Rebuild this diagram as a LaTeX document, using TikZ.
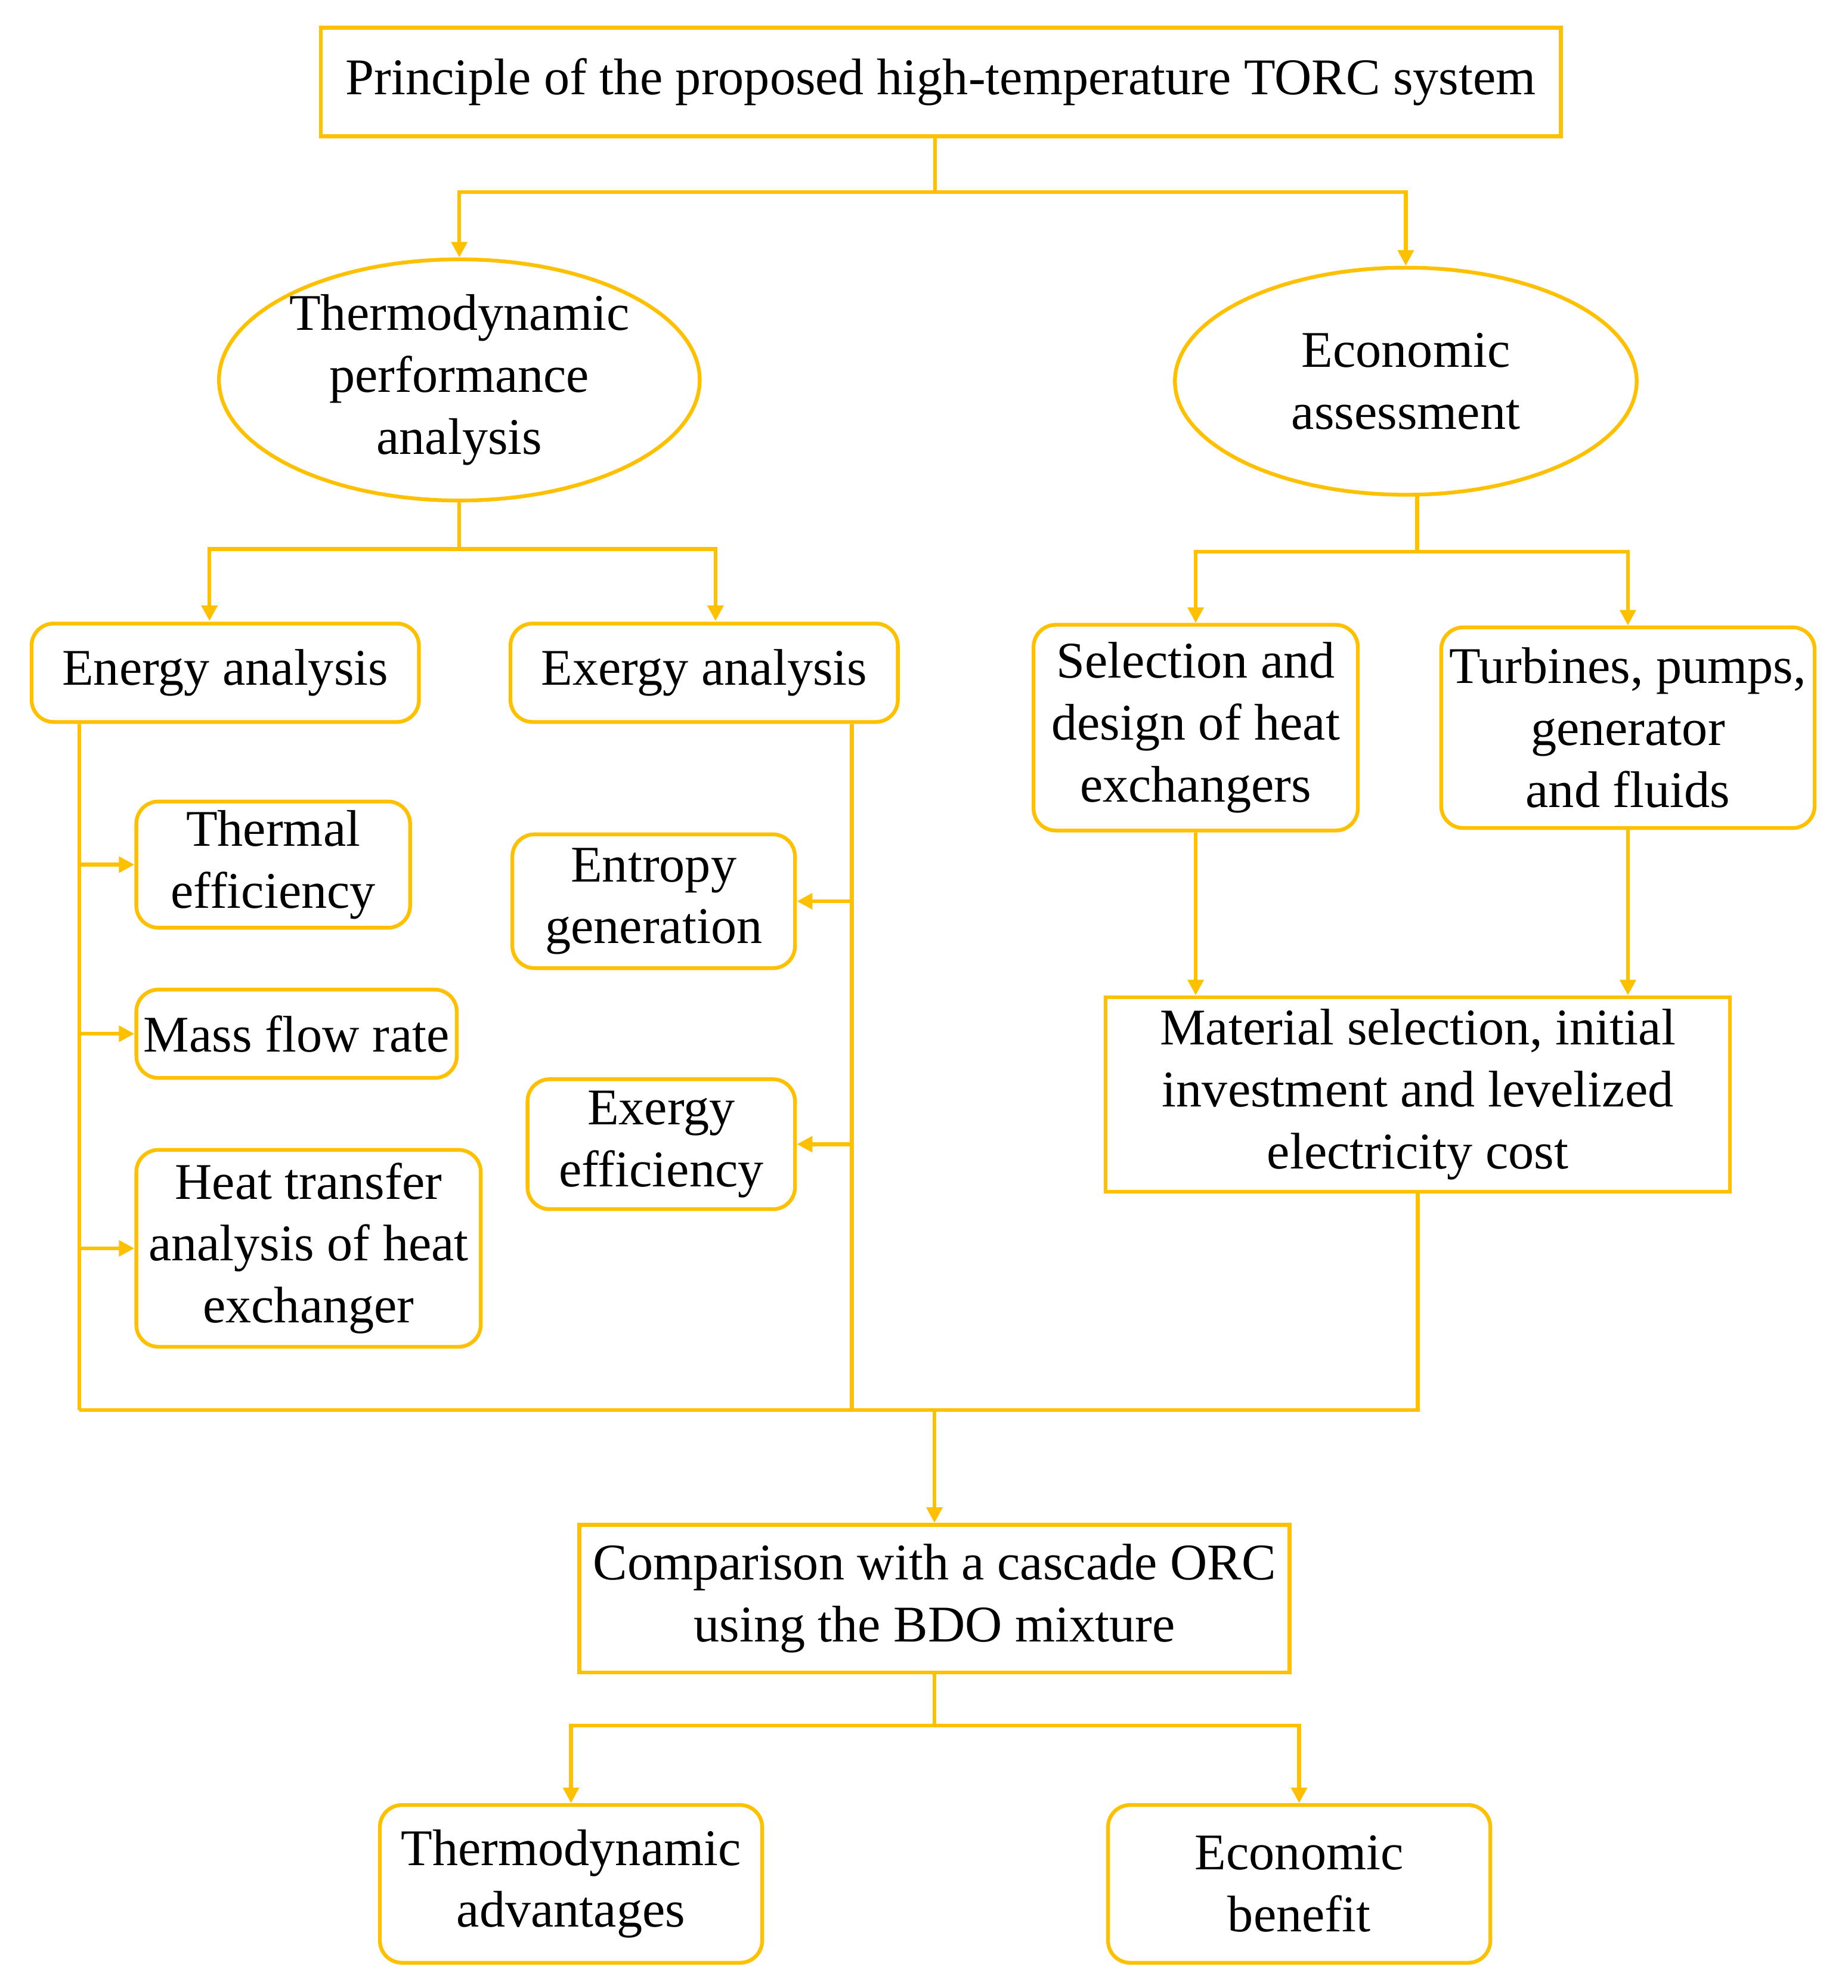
\documentclass[tikz,border=0pt]{standalone}
\usepackage{fontspec}
\setmainfont{Liberation Serif}
\usetikzlibrary{shapes.geometric,arrows.meta}
\definecolor{gold}{HTML}{FFC000}
\begin{document}
\begin{tikzpicture}[x=0.02cm,y=-0.02cm,
  every node/.style={font=\fontsize{23.2}{27.9}\selectfont,align=center,inner sep=0pt},
  box/.style={draw=gold,line width=1.7pt},
  rbox/.style={box,rounded corners=0.35cm},
  ell/.style={box,ellipse},
  ln/.style={draw=gold,line width=1.7pt},
  arr/.style={ln,-{Triangle[length=7pt,width=7pt]}}]
\useasboundingbox (0,0) rectangle (1464,1575);
\node[box,minimum width=19.66cm,minimum height=1.72cm] (top) at (745.5,65) {Principle of the proposed high-temperature TORC system};
\node[ell,minimum width=7.32cm,minimum height=3.6cm] (L) at (364,301) {Thermodynamic\\performance\\analysis};
\node[ell,minimum width=7.32cm,minimum height=3.6cm] (R) at (1114,302) {Economic\\assessment};
\node[rbox,minimum width=6.14cm,minimum height=1.56cm] (En) at (178.5,533) {Energy analysis};
\node[rbox,minimum width=6.14cm,minimum height=1.56cm] (Ex) at (558,533) {Exergy analysis};
\node[rbox,minimum width=5.14cm,minimum height=3.26cm] (Sel) at (947.5,576.5) {Selection and\\design of heat\\exchangers};
\node[rbox,minimum width=5.92cm,minimum height=3.18cm] (Tur) at (1290,576.5) {Turbines, pumps,\\generator\\and fluids};
\node[box,minimum width=9.9cm,minimum height=3.08cm] (Mat) at (1123.5,867) {Material selection, initial\\investment and levelized\\electricity cost};
\node[rbox,minimum width=4.34cm,minimum height=2.0cm] (Th) at (216.5,685) {Thermal\\efficiency};
\node[rbox,minimum width=5.08cm,minimum height=1.4cm] (Ma) at (235,819) {Mass flow rate};
\node[rbox,minimum width=5.46cm,minimum height=3.12cm] (He) at (244.5,989) {Heat transfer\\analysis of heat\\exchanger};
\node[rbox,minimum width=4.48cm,minimum height=2.12cm] (Ent) at (518,714) {Entropy\\generation};
\node[rbox,minimum width=4.24cm,minimum height=2.06cm] (Xe) at (524,906.5) {Exergy\\efficiency};
\node[box,minimum width=11.26cm,minimum height=2.34cm] (Co) at (740.5,1266.5) {Comparison with a cascade ORC\\using the BDO mixture};
\node[rbox,minimum width=6.06cm,minimum height=2.5cm] (TA) at (452.5,1492.5) {Thermodynamic\\advantages};
\node[rbox,minimum width=6.06cm,minimum height=2.5cm] (EB) at (1029.5,1492.5) {Economic\\benefit};
% top split
\coordinate (j1) at (741,152);
\draw[ln] (top.south -| j1) -- (j1);
\draw[arr] (j1) -| (L.north);
\draw[arr] (j1) -| (R.north);
% left split
\coordinate (j2) at (364,435);
\draw[ln] (L.south) -- (j2);
\draw[arr] (j2) -| (166,492);
\draw[arr] (j2) -| (567,492);
% right split
\coordinate (j3) at (1123,437);
\draw[ln] (1123,392) -- (j3);
\draw[arr] (j3) -| (Sel.north);
\draw[arr] (j3) -| (Tur.north);
\draw[arr] (Sel.south) -- (Sel.south |- Mat.north);
\draw[arr] (Tur.south) -- (Tur.south |- Mat.north);
% energy side
\coordinate (eL) at (63,1117);
\draw[ln] (En.south -| eL) -- (eL);
\draw[arr] (Th.west -| eL) -- (Th.west);
\draw[arr] (Ma.west -| eL) -- (Ma.west);
\draw[arr] (He.west -| eL) -- (He.west);
% exergy side
\coordinate (xR) at (675,1117);
\draw[ln] (Ex.south -| xR) -- (xR);
\draw[arr] (Ent.east -| xR) -- (Ent.east);
\draw[arr] (Xe.east -| xR) -- (Xe.east);
% merge
\draw[ln] (eL) -- (Mat.south |- eL) -- (Mat.south);
\draw[arr] (Co.north |- eL) -- (Co.north);
% bottom split
\coordinate (j4) at (740.5,1367);
\draw[ln] (Co.south) -- (j4);
\draw[arr] (j4) -| (TA.north);
\draw[arr] (j4) -| (EB.north);
\end{tikzpicture}
\end{document}
